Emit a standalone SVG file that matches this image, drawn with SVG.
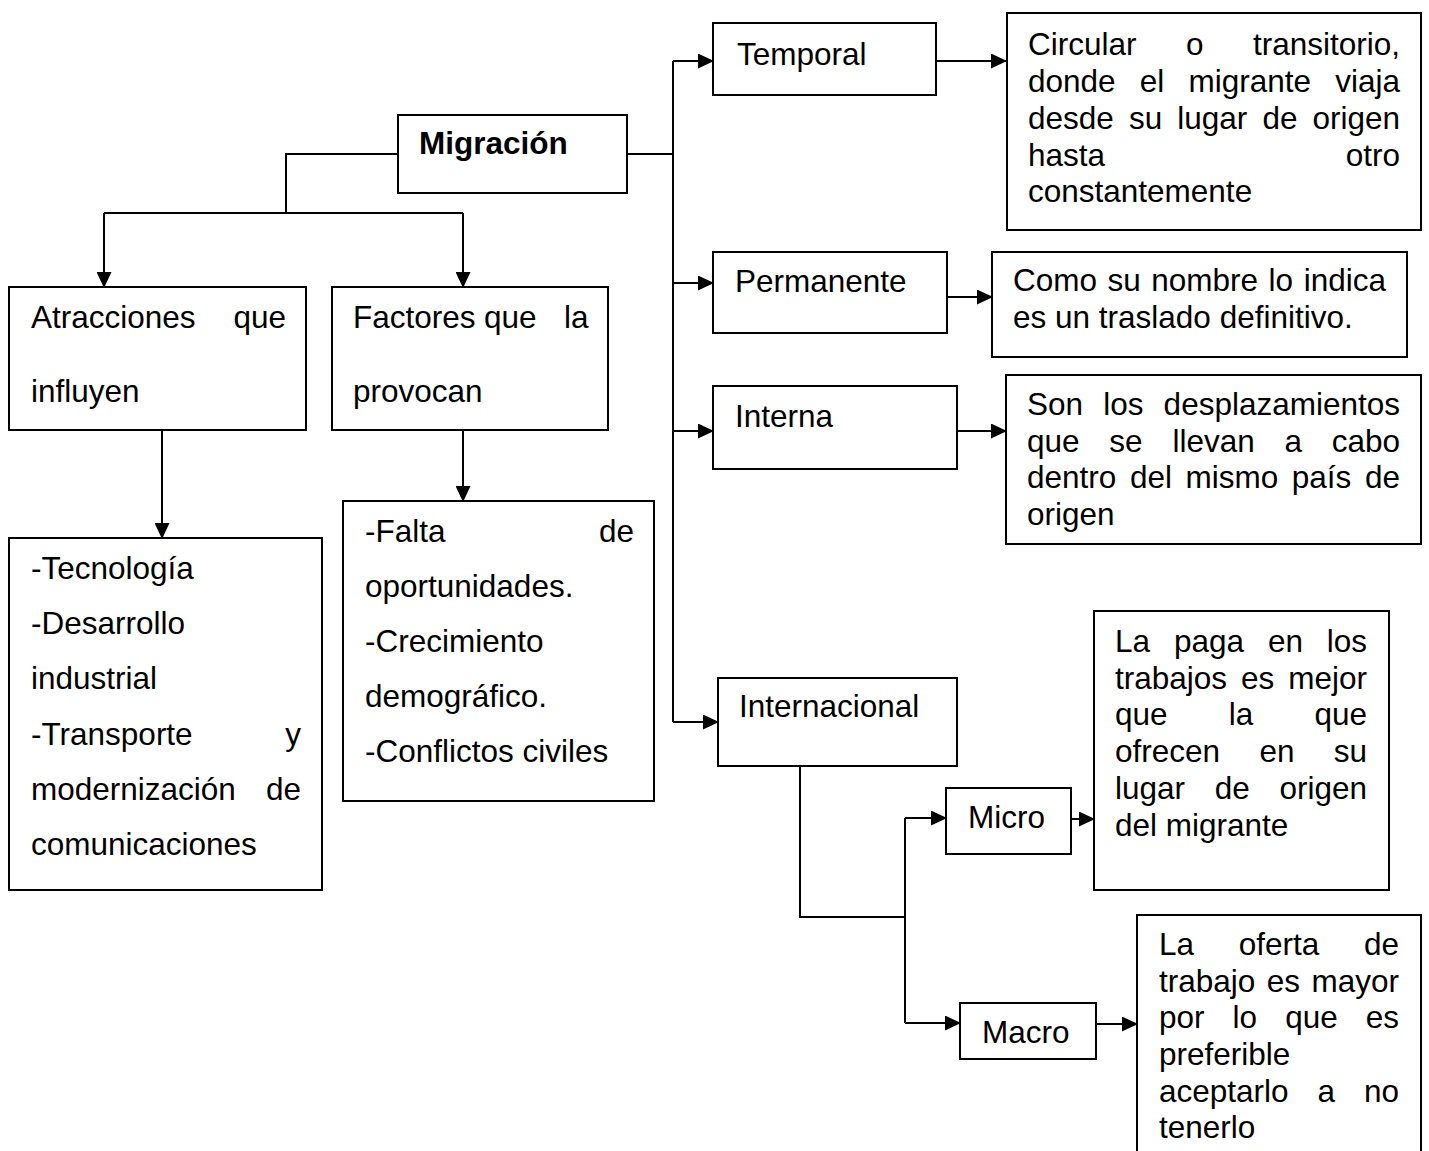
<svg xmlns="http://www.w3.org/2000/svg" width="1429" height="1151" viewBox="0 0 1429 1151">
<style>
.box{fill:#fff;stroke:#000;stroke-width:2}
.t{font-family:"Liberation Sans",Arial,sans-serif;font-size:31.5px;fill:#000}
.b{font-weight:bold}
.c{fill:none;stroke:#000;stroke-width:2}
.e{text-anchor:end}
</style>
<defs>
<marker id="ah" markerWidth="16" markerHeight="15" refX="15" refY="7.5" orient="auto" markerUnits="userSpaceOnUse">
<path d="M0,0 L16,7.5 L0,15 z" fill="#000"/>
</marker>
</defs>
<rect width="1429" height="1151" fill="#fff"/>

<g id="connectors">
<path class="c" d="M398,154 H286 V213"/>
<path class="c" d="M104,213 H463"/>
<path class="c" d="M104,213 V287" marker-end="url(#ah)"/>
<path class="c" d="M463,213 V287" marker-end="url(#ah)"/>
<path class="c" d="M162,430 V538" marker-end="url(#ah)"/>
<path class="c" d="M463,430 V501" marker-end="url(#ah)"/>
<path class="c" d="M627,154 H673"/>
<path class="c" d="M673,61 V722"/>
<path class="c" d="M673,61 H713" marker-end="url(#ah)"/>
<path class="c" d="M673,283 H713" marker-end="url(#ah)"/>
<path class="c" d="M673,431 H713" marker-end="url(#ah)"/>
<path class="c" d="M673,722 H718" marker-end="url(#ah)"/>
<path class="c" d="M936,61 H1006" marker-end="url(#ah)"/>
<path class="c" d="M947,297 H992" marker-end="url(#ah)"/>
<path class="c" d="M957,431 H1006" marker-end="url(#ah)"/>
<path class="c" d="M800,766 V917 H905"/>
<path class="c" d="M905,818 V1023"/>
<path class="c" d="M905,818 H946" marker-end="url(#ah)"/>
<path class="c" d="M905,1023 H960" marker-end="url(#ah)"/>
<path class="c" d="M1071,819 H1094" marker-end="url(#ah)"/>
<path class="c" d="M1096,1024 H1137" marker-end="url(#ah)"/>
</g>

<g id="migracion">
<rect class="box" x="398" y="115" width="229" height="78"/>
<text class="t b" x="419" y="154">Migración</text>
</g>

<g id="atracciones">
<rect class="box" x="9" y="287" width="297" height="143"/>
<text class="t"><tspan x="31" y="328">Atracciones</tspan><tspan class="e" x="286" y="328">que</tspan><tspan x="31" y="402">influyen</tspan></text>
</g>

<g id="factores">
<rect class="box" x="332" y="287" width="276" height="143"/>
<text class="t"><tspan x="353" y="328">Factores</tspan><tspan x="484" y="328">que</tspan><tspan x="564" y="328">la</tspan><tspan x="353" y="402">provocan</tspan></text>
</g>

<g id="tecnologia">
<rect class="box" x="9" y="538" width="313" height="352"/>
<text class="t"><tspan x="31" y="579">-Tecnología</tspan><tspan x="31" y="634">-Desarrollo</tspan><tspan x="31" y="689">industrial</tspan><tspan x="31" y="745">-Transporte</tspan><tspan class="e" x="301" y="745">y</tspan><tspan x="31" y="800">modernización</tspan><tspan class="e" x="301" y="800">de</tspan><tspan x="31" y="855">comunicaciones</tspan></text>
</g>

<g id="falta">
<rect class="box" x="343" y="501" width="311" height="300"/>
<text class="t"><tspan x="365" y="542">-Falta</tspan><tspan class="e" x="634" y="542">de</tspan><tspan x="365" y="597">oportunidades.</tspan><tspan x="365" y="652">-Crecimiento</tspan><tspan x="365" y="707">demográfico.</tspan><tspan x="365" y="762">-Conflictos civiles</tspan></text>
</g>

<g id="temporal">
<rect class="box" x="713" y="23" width="223" height="72"/>
<text class="t" x="737" y="65">Temporal</text>
</g>

<g id="circular">
<rect class="box" x="1007" y="13" width="414" height="217"/>
<text class="t"><tspan x="1028" y="55">Circular</tspan><tspan x="1186" y="55">o</tspan><tspan class="e" x="1400" y="55">transitorio,</tspan><tspan x="1028" y="92">donde</tspan><tspan x="1139.8" y="92">el</tspan><tspan x="1188.5" y="92">migrante</tspan><tspan class="e" x="1400" y="92">viaja</tspan><tspan x="1028" y="129">desde</tspan><tspan x="1128.9" y="129">su</tspan><tspan x="1177.3" y="129">lugar</tspan><tspan x="1262.4" y="129">de</tspan><tspan class="e" x="1400" y="129">origen</tspan><tspan x="1028" y="166">hasta</tspan><tspan class="e" x="1400" y="166">otro</tspan><tspan x="1028" y="202">constantemente</tspan></text>
</g>

<g id="permanente">
<rect class="box" x="713" y="252" width="234" height="81"/>
<text class="t" x="735" y="292">Permanente</text>
</g>

<g id="como">
<rect class="box" x="992" y="252" width="415" height="105"/>
<text class="t"><tspan x="1013" y="291">Como</tspan><tspan x="1107.5" y="291">su</tspan><tspan x="1151.3" y="291">nombre</tspan><tspan x="1268.6" y="291">lo</tspan><tspan class="e" x="1386" y="291">indica</tspan><tspan x="1013" y="328">es un traslado definitivo.</tspan></text>
</g>

<g id="interna">
<rect class="box" x="713" y="386" width="244" height="83"/>
<text class="t" x="735" y="427">Interna</text>
</g>

<g id="son">
<rect class="box" x="1006" y="375" width="415" height="169"/>
<text class="t"><tspan x="1027" y="415">Son</tspan><tspan x="1103.2" y="415">los</tspan><tspan class="e" x="1400" y="415">desplazamientos</tspan><tspan x="1027" y="452">que</tspan><tspan x="1109.3" y="452">se</tspan><tspan x="1172.4" y="452">llevan</tspan><tspan x="1284.5" y="452">a</tspan><tspan class="e" x="1400" y="452">cabo</tspan><tspan x="1027" y="488">dentro</tspan><tspan x="1129.9" y="488">del</tspan><tspan x="1185.5" y="488">mismo</tspan><tspan x="1291.8" y="488">país</tspan><tspan class="e" x="1400" y="488">de</tspan><tspan x="1027" y="525">origen</tspan></text>
</g>

<g id="internacional">
<rect class="box" x="718" y="678" width="239" height="88"/>
<text class="t" x="739" y="717">Internacional</text>
</g>

<g id="micro">
<rect class="box" x="946" y="788" width="125" height="66"/>
<text class="t" x="968" y="828">Micro</text>
</g>

<g id="lapaga">
<rect class="box" x="1094" y="611" width="295" height="279"/>
<text class="t"><tspan x="1115" y="652">La</tspan><tspan x="1173.9" y="652">paga</tspan><tspan x="1267.9" y="652">en</tspan><tspan class="e" x="1367" y="652">los</tspan><tspan x="1115" y="689">trabajos</tspan><tspan x="1241" y="689">es</tspan><tspan class="e" x="1367" y="689">mejor</tspan><tspan x="1115" y="725">que</tspan><tspan x="1228.8" y="725">la</tspan><tspan class="e" x="1367" y="725">que</tspan><tspan x="1115" y="762">ofrecen</tspan><tspan x="1259.4" y="762">en</tspan><tspan class="e" x="1367" y="762">su</tspan><tspan x="1115" y="799">lugar</tspan><tspan x="1214.8" y="799">de</tspan><tspan class="e" x="1367" y="799">origen</tspan><tspan x="1115" y="836">del migrante</tspan></text>
</g>

<g id="macro">
<rect class="box" x="960" y="1003" width="136" height="56"/>
<text class="t" x="982" y="1043">Macro</text>
</g>

<g id="laoferta">
<rect class="box" x="1137" y="915" width="284" height="250"/>
<text class="t"><tspan x="1159" y="955">La</tspan><tspan x="1238.8" y="955">oferta</tspan><tspan class="e" x="1399" y="955">de</tspan><tspan x="1159" y="992">trabajo</tspan><tspan x="1266.8" y="992">es</tspan><tspan class="e" x="1399" y="992">mayor</tspan><tspan x="1159" y="1028">por</tspan><tspan x="1232.6" y="1028">lo</tspan><tspan x="1285.2" y="1028">que</tspan><tspan class="e" x="1399" y="1028">es</tspan><tspan x="1159" y="1065">preferible</tspan><tspan x="1159" y="1102">aceptarlo</tspan><tspan x="1317.5" y="1102">a</tspan><tspan class="e" x="1399" y="1102">no</tspan><tspan x="1159" y="1138">tenerlo</tspan></text>
</g>
</svg>
